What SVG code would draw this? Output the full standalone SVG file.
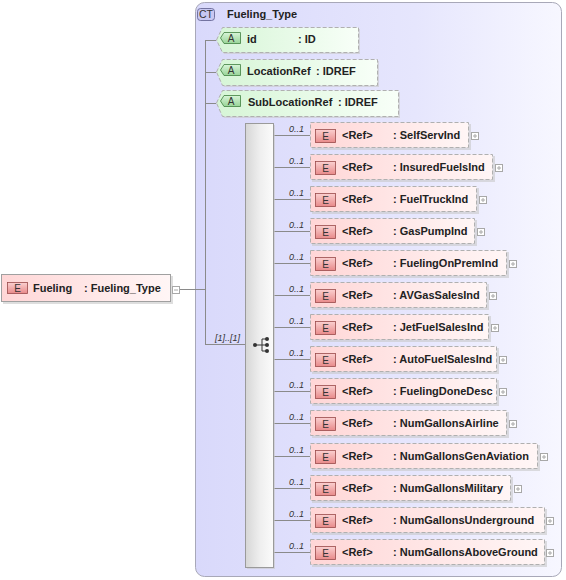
<svg xmlns="http://www.w3.org/2000/svg" width="566" height="580" viewBox="0 0 566 580">
<defs>
<linearGradient id="ctg" x1="0" y1="0" x2="1" y2="0"><stop offset="0" stop-color="#d9d9fb"/><stop offset="0.6" stop-color="#e6e6fd"/><stop offset="1" stop-color="#f7f7ff"/></linearGradient>
<linearGradient id="eg" x1="0" y1="0" x2="1" y2="0"><stop offset="0" stop-color="#ffd6d6"/><stop offset="1" stop-color="#fff6f6"/></linearGradient>
<linearGradient id="ag" x1="0" y1="0" x2="1" y2="0"><stop offset="0" stop-color="#d6f5d6"/><stop offset="1" stop-color="#f8fff8"/></linearGradient>
<linearGradient id="ebg" x1="0" y1="0" x2="0" y2="1"><stop offset="0" stop-color="#fbd0d0"/><stop offset="1" stop-color="#e88a8a"/></linearGradient>
<linearGradient id="abg" x1="0" y1="0" x2="0" y2="1"><stop offset="0" stop-color="#d8f4d8"/><stop offset="1" stop-color="#98d498"/></linearGradient>
<linearGradient id="sqg" x1="0" y1="0" x2="1" y2="0"><stop offset="0" stop-color="#d6d6d6"/><stop offset="0.5" stop-color="#eeeeee"/><stop offset="1" stop-color="#fbfbfb"/></linearGradient>
</defs>
<style>
text{font-family:"Liberation Sans",Arial,sans-serif;font-size:11px;font-weight:bold;fill:#222}
.occ{font-size:9px;font-weight:normal;font-style:italic;fill:#333}
.bt{font-size:11px;font-weight:normal;fill:#333}
.con{stroke:#8a8a8a;stroke-width:1;fill:none}
.ebox{fill:url(#eg);stroke:#b0b0b0;stroke-dasharray:4,2}
.abox{fill:url(#ag);stroke:#b0b0b0;stroke-dasharray:4,2}
.shd{fill:#c8c8c8;opacity:0.6}
.eb{fill:url(#ebg);stroke:#9a4a4a;stroke-width:0.8}
.ab{fill:url(#abg);stroke:#3f7f3f;stroke-width:0.8}
.pl{fill:#fff;stroke:#a8a8a8}
.plx{stroke:#a8a8a8;stroke-width:1}
</style>

<g id="ct-Fueling_Type">
<rect x="195.5" y="2.5" width="366" height="574" rx="9" fill="url(#ctg)" stroke="#a8a8b8"/>
<rect x="197.5" y="8.5" width="17" height="12" rx="3" fill="#c8c8f2" stroke="#5a5a8a" stroke-width="0.8"/>
<text x="206" y="18" text-anchor="middle" class="bt" style="font-size:10.5px">CT</text>
<text x="227" y="18">Fueling_Type</text>
</g>

<g id="connectors">
<line class="con" x1="180" y1="289.5" x2="205" y2="289.5"/>
<line class="con" x1="205.5" y1="40" x2="205.5" y2="344"/>
<line class="con" x1="205" y1="40.5" x2="216" y2="40.5"/>
<line class="con" x1="205" y1="72.5" x2="216" y2="72.5"/>
<line class="con" x1="205" y1="103.5" x2="216" y2="103.5"/>
<line class="con" x1="205" y1="344.5" x2="245" y2="344.5"/>
<line class="con" x1="273" y1="135.5" x2="310" y2="135.5"/>
<line class="con" x1="273" y1="167.5" x2="310" y2="167.5"/>
<line class="con" x1="273" y1="199.5" x2="310" y2="199.5"/>
<line class="con" x1="273" y1="231.5" x2="310" y2="231.5"/>
<line class="con" x1="273" y1="263.5" x2="310" y2="263.5"/>
<line class="con" x1="273" y1="295.5" x2="310" y2="295.5"/>
<line class="con" x1="273" y1="327.5" x2="310" y2="327.5"/>
<line class="con" x1="273" y1="359.5" x2="310" y2="359.5"/>
<line class="con" x1="273" y1="391.5" x2="310" y2="391.5"/>
<line class="con" x1="273" y1="423.5" x2="310" y2="423.5"/>
<line class="con" x1="273" y1="456.5" x2="310" y2="456.5"/>
<line class="con" x1="273" y1="488.5" x2="310" y2="488.5"/>
<line class="con" x1="273" y1="520.5" x2="310" y2="520.5"/>
<line class="con" x1="273" y1="552.5" x2="310" y2="552.5"/>
</g>

<g id="el-Fueling">
<rect x="3" y="276" width="170" height="28" class="shd"/>
<rect x="1.5" y="274.5" width="169" height="27" fill="url(#eg)" stroke="#a0a0a0"/>
<rect x="7.5" y="282.5" width="20" height="11" class="eb"/>
<text x="17.5" y="291.5" text-anchor="middle" class="bt" style="font-size:10px">E</text>
<text x="33" y="292">Fueling</text>
<text x="84" y="292">: Fueling_Type</text>
<rect x="172.5" y="286.5" width="7" height="7" class="pl"/>
<line class="plx" x1="174" y1="290" x2="178" y2="290"/>
</g>

<g id="attr-id">
<path d="M218,42 L224,29 H360 V54 H224 Z" class="shd"/>
<path d="M216.5,40 L222.5,27.5 H358.5 V52.5 H222.5 Z" class="abox"/>
<path d="M220.5,38 L224,32.5 H240.5 V43.5 H224 Z" class="ab"/>
<text x="231" y="42" text-anchor="middle" class="bt" style="font-size:10px">A</text>
<text x="247" y="43">id</text>
<text x="298" y="43">: ID</text>
</g>
<g id="attr-LocationRef">
<path d="M218,74 L224,61 H379 V87 H224 Z" class="shd"/>
<path d="M216.5,72 L222.5,59.5 H377.5 V85.5 H222.5 Z" class="abox"/>
<path d="M220.5,70 L224,64.5 H240.5 V75.5 H224 Z" class="ab"/>
<text x="231" y="74" text-anchor="middle" class="bt" style="font-size:10px">A</text>
<text x="247" y="75">LocationRef</text>
<text x="316" y="75">: IDREF</text>
</g>
<g id="attr-SubLocationRef">
<path d="M218,105 L224,92 H400 V118 H224 Z" class="shd"/>
<path d="M216.5,103 L222.5,90.5 H398.5 V116.5 H222.5 Z" class="abox"/>
<path d="M220.5,101 L224,95.5 H240.5 V106.5 H224 Z" class="ab"/>
<text x="231" y="105" text-anchor="middle" class="bt" style="font-size:10px">A</text>
<text x="248" y="106">SubLocationRef</text>
<text x="338" y="106">: IDREF</text>
</g>

<g id="sequence">
<rect x="247" y="125" width="28" height="444" class="shd"/>
<rect x="245.5" y="123.5" width="28" height="444" fill="url(#sqg)" stroke="#9a9a9a"/>
<text x="215" y="341" class="occ">[1]..[1]</text>
<g fill="#333" stroke="#333" stroke-width="1">
<line x1="255" y1="345" x2="262" y2="345"/>
<line x1="262" y1="339" x2="262" y2="351"/>
<line x1="262" y1="339" x2="267" y2="339"/>
<line x1="262" y1="345" x2="267" y2="345"/>
<line x1="262" y1="351" x2="267" y2="351"/>
<circle cx="255" cy="345" r="2" stroke="none"/>
<circle cx="267" cy="339" r="2" stroke="none"/>
<circle cx="267" cy="345" r="2" stroke="none"/>
<circle cx="267" cy="351" r="2" stroke="none"/>
</g>
</g>

<g id="el-SelfServInd">
<text x="289" y="132" class="occ">0..1</text>
<rect x="312" y="124" width="159" height="26" class="shd"/>
<rect x="310.5" y="122.5" width="158" height="25" class="ebox"/>
<rect x="315.5" y="129.5" width="20" height="13" class="eb"/>
<text x="325.5" y="140" text-anchor="middle" class="bt" style="font-size:10px">E</text>
<text x="342" y="139">&lt;Ref&gt;</text>
<text x="393" y="139">: SelfServInd</text>
<rect x="471.5" y="132.5" width="7" height="7" class="pl"/>
<line class="plx" x1="473" y1="136" x2="477" y2="136"/><line class="plx" x1="475" y1="134" x2="475" y2="138"/>
</g>
<g id="el-InsuredFuelsInd">
<text x="289" y="164" class="occ">0..1</text>
<rect x="312" y="156" width="183" height="26" class="shd"/>
<rect x="310.5" y="154.5" width="182" height="25" class="ebox"/>
<rect x="315.5" y="161.5" width="20" height="13" class="eb"/>
<text x="325.5" y="172" text-anchor="middle" class="bt" style="font-size:10px">E</text>
<text x="342" y="171">&lt;Ref&gt;</text>
<text x="393" y="171">: InsuredFuelsInd</text>
<rect x="495.5" y="164.5" width="7" height="7" class="pl"/>
<line class="plx" x1="497" y1="168" x2="501" y2="168"/><line class="plx" x1="499" y1="166" x2="499" y2="170"/>
</g>
<g id="el-FuelTruckInd">
<text x="289" y="196" class="occ">0..1</text>
<rect x="312" y="188" width="167" height="26" class="shd"/>
<rect x="310.5" y="186.5" width="166" height="25" class="ebox"/>
<rect x="315.5" y="193.5" width="20" height="13" class="eb"/>
<text x="325.5" y="204" text-anchor="middle" class="bt" style="font-size:10px">E</text>
<text x="342" y="203">&lt;Ref&gt;</text>
<text x="393" y="203">: FuelTruckInd</text>
<rect x="479.5" y="196.5" width="7" height="7" class="pl"/>
<line class="plx" x1="481" y1="200" x2="485" y2="200"/><line class="plx" x1="483" y1="198" x2="483" y2="202"/>
</g>
<g id="el-GasPumpInd">
<text x="289" y="228" class="occ">0..1</text>
<rect x="312" y="220" width="165" height="26" class="shd"/>
<rect x="310.5" y="218.5" width="164" height="25" class="ebox"/>
<rect x="315.5" y="225.5" width="20" height="13" class="eb"/>
<text x="325.5" y="236" text-anchor="middle" class="bt" style="font-size:10px">E</text>
<text x="342" y="235">&lt;Ref&gt;</text>
<text x="393" y="235">: GasPumpInd</text>
<rect x="477.5" y="228.5" width="7" height="7" class="pl"/>
<line class="plx" x1="479" y1="232" x2="483" y2="232"/><line class="plx" x1="481" y1="230" x2="481" y2="234"/>
</g>
<g id="el-FuelingOnPremInd">
<text x="289" y="260" class="occ">0..1</text>
<rect x="312" y="252" width="197" height="26" class="shd"/>
<rect x="310.5" y="250.5" width="196" height="25" class="ebox"/>
<rect x="315.5" y="257.5" width="20" height="13" class="eb"/>
<text x="325.5" y="268" text-anchor="middle" class="bt" style="font-size:10px">E</text>
<text x="342" y="267">&lt;Ref&gt;</text>
<text x="393" y="267">: FuelingOnPremInd</text>
<rect x="509.5" y="260.5" width="7" height="7" class="pl"/>
<line class="plx" x1="511" y1="264" x2="515" y2="264"/><line class="plx" x1="513" y1="262" x2="513" y2="266"/>
</g>
<g id="el-AVGasSalesInd">
<text x="289" y="292" class="occ">0..1</text>
<rect x="312" y="284" width="177" height="26" class="shd"/>
<rect x="310.5" y="282.5" width="176" height="25" class="ebox"/>
<rect x="315.5" y="289.5" width="20" height="13" class="eb"/>
<text x="325.5" y="300" text-anchor="middle" class="bt" style="font-size:10px">E</text>
<text x="342" y="299">&lt;Ref&gt;</text>
<text x="393" y="299">: AVGasSalesInd</text>
<rect x="489.5" y="292.5" width="7" height="7" class="pl"/>
<line class="plx" x1="491" y1="296" x2="495" y2="296"/><line class="plx" x1="493" y1="294" x2="493" y2="298"/>
</g>
<g id="el-JetFuelSalesInd">
<text x="289" y="324" class="occ">0..1</text>
<rect x="312" y="316" width="179" height="26" class="shd"/>
<rect x="310.5" y="314.5" width="178" height="25" class="ebox"/>
<rect x="315.5" y="321.5" width="20" height="13" class="eb"/>
<text x="325.5" y="332" text-anchor="middle" class="bt" style="font-size:10px">E</text>
<text x="342" y="331">&lt;Ref&gt;</text>
<text x="393" y="331">: JetFuelSalesInd</text>
<rect x="491.5" y="324.5" width="7" height="7" class="pl"/>
<line class="plx" x1="493" y1="328" x2="497" y2="328"/><line class="plx" x1="495" y1="326" x2="495" y2="330"/>
</g>
<g id="el-AutoFuelSalesInd">
<text x="289" y="356" class="occ">0..1</text>
<rect x="312" y="348" width="187" height="26" class="shd"/>
<rect x="310.5" y="346.5" width="186" height="25" class="ebox"/>
<rect x="315.5" y="353.5" width="20" height="13" class="eb"/>
<text x="325.5" y="364" text-anchor="middle" class="bt" style="font-size:10px">E</text>
<text x="342" y="363">&lt;Ref&gt;</text>
<text x="393" y="363">: AutoFuelSalesInd</text>
<rect x="499.5" y="356.5" width="7" height="7" class="pl"/>
<line class="plx" x1="501" y1="360" x2="505" y2="360"/><line class="plx" x1="503" y1="358" x2="503" y2="362"/>
</g>
<g id="el-FuelingDoneDesc">
<text x="289" y="388" class="occ">0..1</text>
<rect x="312" y="380" width="187" height="26" class="shd"/>
<rect x="310.5" y="378.5" width="186" height="25" class="ebox"/>
<rect x="315.5" y="385.5" width="20" height="13" class="eb"/>
<text x="325.5" y="396" text-anchor="middle" class="bt" style="font-size:10px">E</text>
<text x="342" y="395">&lt;Ref&gt;</text>
<text x="393" y="395">: FuelingDoneDesc</text>
<rect x="499.5" y="388.5" width="7" height="7" class="pl"/>
<line class="plx" x1="501" y1="392" x2="505" y2="392"/><line class="plx" x1="503" y1="390" x2="503" y2="394"/>
</g>
<g id="el-NumGallonsAirline">
<text x="289" y="420" class="occ">0..1</text>
<rect x="312" y="412" width="197" height="26" class="shd"/>
<rect x="310.5" y="410.5" width="196" height="25" class="ebox"/>
<rect x="315.5" y="417.5" width="20" height="13" class="eb"/>
<text x="325.5" y="428" text-anchor="middle" class="bt" style="font-size:10px">E</text>
<text x="342" y="427">&lt;Ref&gt;</text>
<text x="393" y="427">: NumGallonsAirline</text>
<rect x="509.5" y="420.5" width="7" height="7" class="pl"/>
<line class="plx" x1="511" y1="424" x2="515" y2="424"/><line class="plx" x1="513" y1="422" x2="513" y2="426"/>
</g>
<g id="el-NumGallonsGenAviation">
<text x="289" y="453" class="occ">0..1</text>
<rect x="312" y="445" width="228" height="26" class="shd"/>
<rect x="310.5" y="443.5" width="227" height="25" class="ebox"/>
<rect x="315.5" y="450.5" width="20" height="13" class="eb"/>
<text x="325.5" y="461" text-anchor="middle" class="bt" style="font-size:10px">E</text>
<text x="342" y="460">&lt;Ref&gt;</text>
<text x="393" y="460">: NumGallonsGenAviation</text>
<rect x="540.5" y="453.5" width="7" height="7" class="pl"/>
<line class="plx" x1="542" y1="457" x2="546" y2="457"/><line class="plx" x1="544" y1="455" x2="544" y2="459"/>
</g>
<g id="el-NumGallonsMilitary">
<text x="289" y="485" class="occ">0..1</text>
<rect x="312" y="477" width="201" height="26" class="shd"/>
<rect x="310.5" y="475.5" width="200" height="25" class="ebox"/>
<rect x="315.5" y="482.5" width="20" height="13" class="eb"/>
<text x="325.5" y="493" text-anchor="middle" class="bt" style="font-size:10px">E</text>
<text x="342" y="492">&lt;Ref&gt;</text>
<text x="393" y="492">: NumGallonsMilitary</text>
<rect x="514.5" y="485.5" width="7" height="7" class="pl"/>
<line class="plx" x1="516" y1="489" x2="520" y2="489"/><line class="plx" x1="518" y1="487" x2="518" y2="491"/>
</g>
<g id="el-NumGallonsUnderground">
<text x="289" y="517" class="occ">0..1</text>
<rect x="312" y="509" width="235" height="26" class="shd"/>
<rect x="310.5" y="507.5" width="234" height="25" class="ebox"/>
<rect x="315.5" y="514.5" width="20" height="13" class="eb"/>
<text x="325.5" y="525" text-anchor="middle" class="bt" style="font-size:10px">E</text>
<text x="342" y="524">&lt;Ref&gt;</text>
<text x="393" y="524">: NumGallonsUnderground</text>
<rect x="546.5" y="517.5" width="7" height="7" class="pl"/>
<line class="plx" x1="548" y1="521" x2="552" y2="521"/><line class="plx" x1="550" y1="519" x2="550" y2="523"/>
</g>
<g id="el-NumGallonsAboveGround">
<text x="289" y="549" class="occ">0..1</text>
<rect x="312" y="541" width="235" height="26" class="shd"/>
<rect x="310.5" y="539.5" width="234" height="25" class="ebox"/>
<rect x="315.5" y="546.5" width="20" height="13" class="eb"/>
<text x="325.5" y="557" text-anchor="middle" class="bt" style="font-size:10px">E</text>
<text x="342" y="556">&lt;Ref&gt;</text>
<text x="393" y="556">: NumGallonsAboveGround</text>
<rect x="546.5" y="549.5" width="7" height="7" class="pl"/>
<line class="plx" x1="548" y1="553" x2="552" y2="553"/><line class="plx" x1="550" y1="551" x2="550" y2="555"/>
</g>
</svg>
